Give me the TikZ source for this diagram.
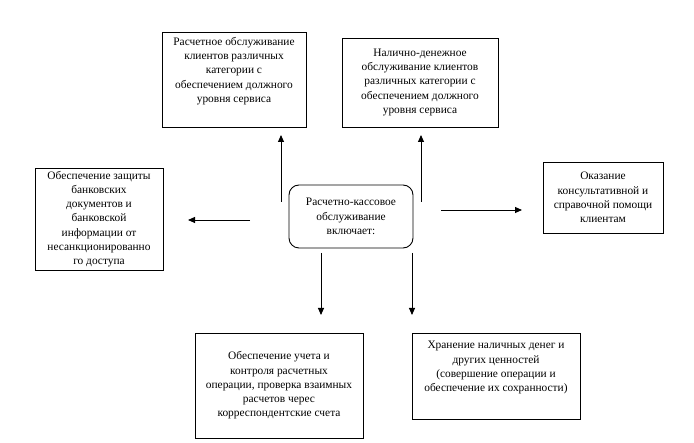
\documentclass[tikz,border=0pt]{standalone}
\usepackage{fontspec}
\setmainfont{Liberation Serif}
\usetikzlibrary{arrows.meta,positioning,calc}

\begin{document}
\begin{tikzpicture}[x=1pt,y=-1pt,
    box/.style={draw,line width=0.9pt,align=center,inner sep=2pt,
      font=\fontsize{11.4}{14.2}\selectfont},
    arr/.style={-{Triangle[length=7pt,width=6pt]},line width=0.9pt}]
      \useasboundingbox (0,0) rectangle (694,443);

      \coordinate (k) at (351,216.5);
      \coordinate (r) at (234,79.5);
      \coordinate (n) at (420,82.5);
      \coordinate (z) at (99,219);
      \coordinate (o) at (603,197.5);
      \coordinate (u) at (279,385.5);
      \coordinate (h) at (496,376);

      \node[box,rounded corners=10pt,minimum width=124pt,minimum height=63pt] (kn) at (k)
        {Расчетно-кассовое\\обслуживание\\включает:};
      \node[box,minimum width=144pt,minimum height=95pt] (rn) at (r)
        {Расчетное обслуживание\\клиентов различных\\категории с\\обеспечением должного\\уровня сервиса\\[5pt]};
      \node[box,minimum width=156pt,minimum height=89pt] (nn) at (n)
        {Налично-денежное\\обслуживание клиентов\\различных категории с\\обеспечением должного\\уровня сервиса};
      \node[box,minimum width=128pt,minimum height=102pt] (zn) at (z)
        {Обеспечение защиты\\банковских\\документов и\\банковской\\информации от\\несанкционированно\\го доступа};
      \node[box,minimum width=120pt,minimum height=71pt] (on) at (o)
        {Оказание\\консультативной и\\справочной помощи\\клиентам};
      \node[box,minimum width=168pt,minimum height=105pt] (un) at (u)
        {Обеспечение учета и\\контроля расчетных\\операции, проверка взаимных\\расчетов черес\\корреспондентские счета};
      \node[box,minimum width=168pt,minimum height=86pt] (hn) at (h)
        {Хранение наличных денег и\\других ценностей\\(совершение операции и\\обеспечение их сохранности)\\[5pt]};

      % free arrows round the centre box
      \coordinate (a1) at (281,202);  \coordinate (b1) at (281,135);
      \coordinate (a2) at (421,202);  \coordinate (b2) at (421,135);
      \coordinate (a3) at (250,220);  \coordinate (b3) at (188,220);
      \coordinate (a4) at (441,210);  \coordinate (b4) at (522,210);
      \coordinate (a5) at (321,253);  \coordinate (b5) at (321,315);
      \coordinate (a6) at (412,253);  \coordinate (b6) at (412,315);

      \draw[arr] (a1) -- (b1);
      \draw[arr] (a2) -- (b2);
      \draw[arr] (a3) -- (b3);
      \draw[arr] (a4) -- (b4);
      \draw[arr] (a5) -- (b5);
      \draw[arr] (a6) -- (b6);
\end{tikzpicture}
\end{document}
